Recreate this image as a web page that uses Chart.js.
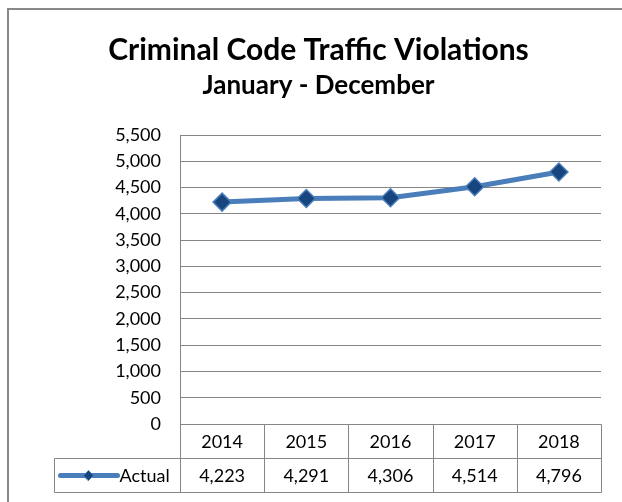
<!DOCTYPE html>
<html><head><meta charset="utf-8">
<script src="https://cdn.jsdelivr.net/npm/chart.js@4.4.0/dist/chart.umd.min.js"></script>
<style>html,body{margin:0;padding:0;background:#fff}canvas{display:block}</style>
</head><body>
<canvas id="c" width="622" height="502"></canvas>
<script>
const categories = ['2014', '2015', '2016', '2017', '2018'];
const actual = [4223, 4291, 4306, 4514, 4796];
const seriesName = 'Actual';
const yMin = 0, yMax = 5500, yStep = 500;
const titleText = 'Criminal Code Traffic Violations';
const subtitleText = 'January - December';

const FONT = 'Lato, "Open Sans", sans-serif';
const GRID = '#868686';
const LINE = '#4a7ebb';
const MARK = '#17467f';
const fmt = v => Number(v).toLocaleString('en-US');

const framePlugin = {
  id: 'frame',
  beforeDraw(chart) {
    const ctx = chart.ctx;
    ctx.save();
    ctx.fillStyle = '#fff';
    ctx.fillRect(0, 0, chart.width, chart.height);
    ctx.strokeStyle = '#888';
    ctx.lineWidth = 2;
    ctx.strokeRect(8, 9, chart.width + 20, chart.height + 20);
    ctx.restore();
  }
};

const tablePlugin = {
  id: 'dataTable',
  afterDraw(chart) {
    const { ctx, chartArea: a, scales: { x } } = chart;
    const rowH = 34;
    const y0 = Math.round(a.bottom) + 0.5, y1 = y0 + rowH, y2 = y1 + rowH;
    const legendLeft = 54.5;
    const half = (x.getPixelForValue(1) - x.getPixelForValue(0)) / 2;
    const edges = categories.map((c, i) => Math.round(x.getPixelForValue(i) - half) + 0.5);
    edges.push(Math.round(x.getPixelForValue(categories.length - 1) + half) + 0.5);
    const right = edges[edges.length - 1];
    ctx.save();
    ctx.strokeStyle = GRID;
    ctx.lineWidth = 1;
    ctx.beginPath();
    ctx.moveTo(edges[0], y0); ctx.lineTo(right, y0);
    ctx.moveTo(legendLeft, y1); ctx.lineTo(right, y1);
    ctx.moveTo(legendLeft, y2); ctx.lineTo(right, y2);
    edges.forEach(e => { ctx.moveTo(e, y0); ctx.lineTo(e, y2); });
    ctx.moveTo(legendLeft, y1); ctx.lineTo(legendLeft, y2);
    ctx.stroke();

    ctx.fillStyle = '#000';
    ctx.font = '18px ' + FONT;
    ctx.textAlign = 'center';
    ctx.textBaseline = 'middle';
    categories.forEach((c, i) => {
      const cx = x.getPixelForValue(i);
      ctx.fillText(c, cx, y0 + rowH / 2 + 1);
      ctx.fillText(fmt(actual[i]), cx, y1 + rowH / 2 + 1);
    });

    // legend key
    const ly = y1 + rowH / 2;
    ctx.strokeStyle = LINE;
    ctx.lineWidth = 5;
    ctx.lineCap = 'round';
    ctx.beginPath();
    ctx.moveTo(legendLeft + 6, ly); ctx.lineTo(legendLeft + 63, ly);
    ctx.stroke();
    const mx = legendLeft + 34;
    ctx.fillStyle = MARK;
    ctx.strokeStyle = LINE;
    ctx.lineWidth = 1;
    ctx.beginPath();
    ctx.moveTo(mx - 5, ly); ctx.lineTo(mx, ly - 5); ctx.lineTo(mx + 5, ly); ctx.lineTo(mx, ly + 5); ctx.closePath();
    ctx.fill(); ctx.stroke();
    ctx.fillStyle = '#000';
    ctx.textAlign = 'left';
    ctx.fillText(seriesName, legendLeft + 65, ly + 1);
    ctx.restore();
  }
};

Chart.defaults.color = '#000';
Chart.defaults.font.family = FONT;

new Chart(document.getElementById('c'), {
  type: 'line',
  data: {
    labels: categories,
    datasets: [{
      label: seriesName,
      data: actual,
      yAxisID: 'y',
      borderColor: LINE,
      borderWidth: 5,
      tension: 0,
      pointStyle: 'rectRot',
      pointRadius: 9,
      pointBorderWidth: 1.5,
      pointBackgroundColor: MARK,
      pointBorderColor: LINE
    }]
  },
  options: {
    responsive: false,
    animation: false,
    events: [],
    layout: { padding: { top: 0, left: 15, right: 0, bottom: 78 } },
    plugins: {
      legend: { display: false },
      tooltip: { enabled: false },
      title: {
        display: true, text: titleText, color: '#000',
        font: { size: 30, weight: 'bold', family: FONT },
        padding: { top: 32.5, bottom: 0 }
      },
      subtitle: {
        display: true, text: subtitleText, color: '#000',
        font: { size: 26, weight: 'bold', family: FONT },
        padding: { top: 2, bottom: 33.3 }
      }
    },
    scales: {
      x: { type: 'category', display: false, offset: true },
      y: {
        position: 'left',
        min: yMin, max: yMax,
        afterFit(scale) { scale.width = 165; },
        ticks: { stepSize: yStep, padding: 19, color: '#000', font: { size: 18, family: FONT }, callback: v => fmt(v) },
        grid: { color: GRID, lineWidth: 1, drawTicks: false },
        border: { display: true, color: GRID, width: 1 }
      },
      yRight: {
        position: 'right',
        min: 0, max: 1,
        afterFit(scale) { scale.width = 21; },
        ticks: { display: false },
        grid: { display: false, drawTicks: false },
        border: { display: false }
      }
    }
  },
  plugins: [framePlugin, tablePlugin]
});
</script>
</body></html>
